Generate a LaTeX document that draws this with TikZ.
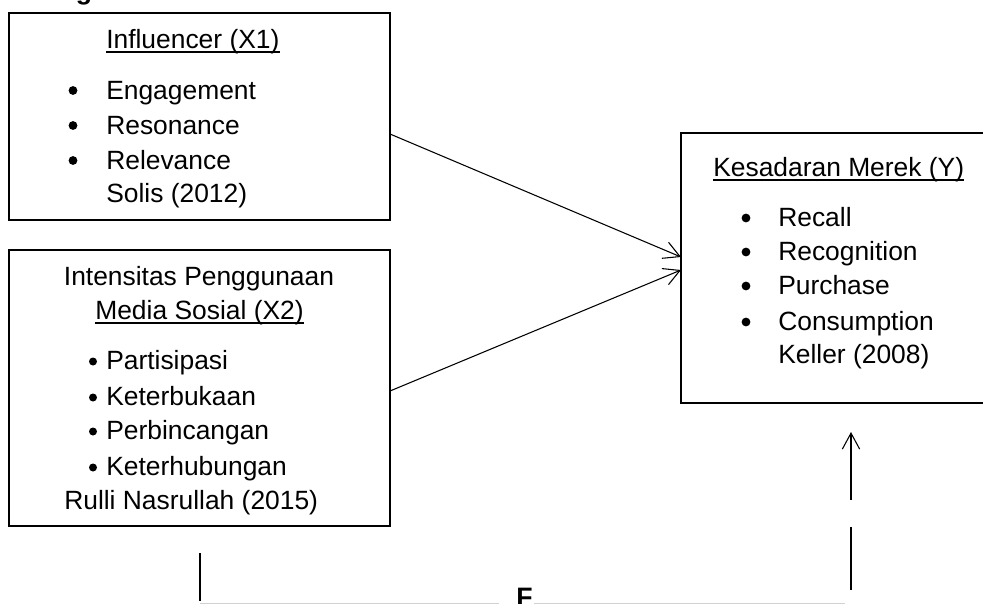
\documentclass[tikz,border=0pt]{standalone}
\usepackage{fontspec}
\setmainfont{Liberation Sans}
\usetikzlibrary{arrows.meta}
\begin{document}
\begin{tikzpicture}[x=0.75pt,y=-0.75pt,
  box/.style={draw, line width=1.8pt, inner sep=0pt},
  txt/.style={inner sep=0pt, anchor=base west, font=\fontsize{19.8pt}{24pt}\selectfont},
  ctxt/.style={txt, anchor=base},
  btxt/.style={inner sep=0pt, anchor=base west, font=\bfseries\fontsize{20pt}{24pt}\selectfont},
  uline/.style={line width=1.3pt},
  bul/.style={fill=black},
  arr/.style={line width=0.8pt, -{Straight Barb[length=12pt,width=13pt]}},
  ln/.style={line width=0.8pt},
  gln/.style={line width=0.8pt, black!18}]
\useasboundingbox (0,0) rectangle (983,604);

% title (cropped)
\node[btxt] (title) at (-6,-1) {Paradigma Pemikiran};

% boxes
\node[box, minimum width=285.75pt, minimum height=155.25pt] (b1) at (199.5,116.5) {};
\node[box, minimum width=285.75pt, minimum height=207pt] (b2) at (199.5,388) {};
\node[box, minimum width=239.25pt, minimum height=202.5pt] (b3) at (840.5,268) {};

% box 1
\node[txt] (t1) at (106,48) {Influencer (X1)};
\draw[uline] ([yshift=-3pt]t1.base west) -- ([yshift=-3pt]t1.base east);
\node[txt] (t1a) at (106,99) {Engagement};
\node[txt] (t1b) at (106,134) {Resonance};
\node[txt] (t1c) at (106,169) {Relevance};
\node[txt] (t1d) at (106,202) {Solis (2012)};
\fill[bul] (73,90.5) circle[radius=3.3pt];
\fill[bul] (73,125.5) circle[radius=3.3pt];
\fill[bul] (73,160.5) circle[radius=3.3pt];

% box 2
\node[ctxt] (t2) at (199,285) {Intensitas Penggunaan};
\node[ctxt] (t2u) at (199.5,319) {Media Sosial (X2)};
\draw[uline] ([yshift=-3pt]t2u.base west) -- ([yshift=-3pt]t2u.base east);
\node[txt] (t2a) at (106,369) {Partisipasi};
\node[txt] (t2b) at (106,405) {Keterbukaan};
\node[txt] (t2c) at (106,439) {Perbincangan};
\node[txt] (t2d) at (106,475) {Keterhubungan};
\node[txt] (t2e) at (64,509) {Rulli Nasrullah (2015)};
\fill[bul] (93,361.5) circle[radius=3pt];
\fill[bul] (93,397.5) circle[radius=3pt];
\fill[bul] (93,431.5) circle[radius=3pt];
\fill[bul] (93,467.5) circle[radius=3pt];

% box 3
\node[txt] (t3) at (713,176) {Kesadaran Merek (Y)};
\draw[uline] ([yshift=-3pt]t3.base west) -- ([yshift=-3pt]t3.base east);
\node[txt] (t3a) at (778,226) {Recall};
\node[txt] (t3b) at (778,260) {Recognition};
\node[txt] (t3c) at (778,294) {Purchase};
\node[txt] (t3d) at (778,330) {Consumption};
\node[txt] (t3e) at (778,363) {Keller (2008)};
\fill[bul] (746,218) circle[radius=3.3pt];
\fill[bul] (746,252) circle[radius=3.3pt];
\fill[bul] (746,286) circle[radius=3.3pt];
\fill[bul] (746,322) circle[radius=3.3pt];

% connectors
\coordinate (a1s) at (390,134);
\coordinate (a1e) at (681,257);
\coordinate (a2s) at (390,391);
\coordinate (a2e) at (681,270);
\draw[arr] (a1s) -- (a1e);
\draw[arr] (a2s) -- (a2e);

\coordinate (v1s) at (851,500);
\coordinate (v1e) at (851,432);
\coordinate (v2s) at (851,590);
\coordinate (v2e) at (851,527);
\draw[arr] (v1s) -- (v1e);
\draw[ln] (v2s) -- (v2e);

\coordinate (v3s) at (200,553);
\coordinate (v3e) at (200,601);
\draw[ln] (v3s) -- (v3e);

\coordinate (h1s) at (200,603.3);
\coordinate (h1e) at (499,603.3);
\coordinate (h2s) at (534,603.3);
\coordinate (h2e) at (845,603.3);
\draw[gln] (h1s) -- (h1e);
\draw[gln] (h2s) -- (h2e);

\node[btxt] (F) at (516,606) {F};
\end{tikzpicture}
\end{document}
